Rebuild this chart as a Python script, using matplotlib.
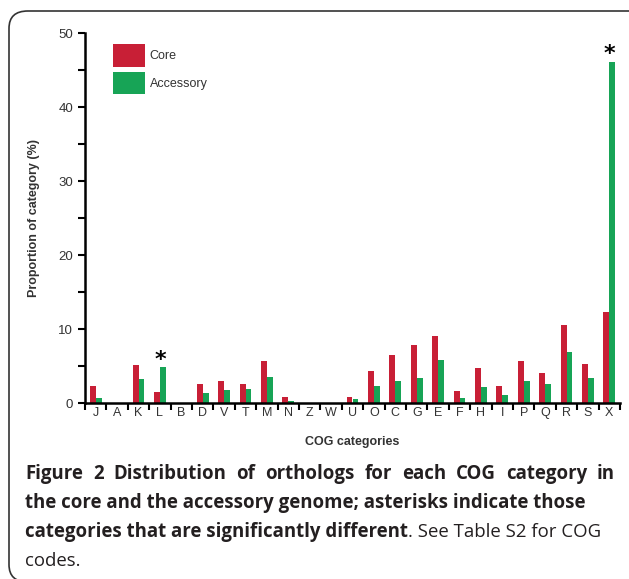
import numpy as np
import matplotlib
matplotlib.use('Agg')
import matplotlib.pyplot as plt
from matplotlib.patches import FancyBboxPatch

# Datos
categorias = ['J', 'A', 'K', 'L', 'B', 'D', 'V', 'T', 'M', 'N', 'Z', 'W', 'U',
              'O', 'C', 'G', 'E', 'F', 'H', 'I', 'P', 'Q', 'R', 'S', 'X']
core = [2.3, 0, 5.1, 1.5, 0, 2.6, 3.0, 2.6, 5.7, 0.8, 0, 0, 0.8,
        4.3, 6.5, 7.8, 9.1, 1.6, 4.7, 2.3, 5.7, 4.1, 10.6, 5.3, 12.3]
accesorio = [0.7, 0, 3.2, 4.8, 0, 1.3, 1.7, 1.9, 3.5, 0.3, 0, 0, 0.6,
             2.3, 3.0, 3.4, 5.8, 0.7, 2.2, 1.1, 3.0, 2.6, 6.9, 3.4, 46.1]
significativas = ['L', 'X']

W, H = 629, 579
fig = plt.figure(figsize=(W / 100, H / 100), dpi=100)
fig.patch.set_facecolor('white')

# Marco redondeado
marco = FancyBboxPatch((9 / W, 1 - 582 / H), 640 / W, 571 / H,
                       boxstyle='round,pad=0,rounding_size=0.03',
                       transform=fig.transFigure, fill=False,
                       edgecolor='#333333', linewidth=1.2, clip_on=False)
fig.patches.append(marco)

ax = fig.add_axes([85 / W, 1 - 403 / H, 535 / W, 370 / H])
x = np.arange(len(categorias))
ancho = 0.28
rojo = '#c81f36'
verde = '#17a456'
ax.bar(x - ancho / 2, core, ancho, color=rojo, label='Core')
ax.bar(x + ancho / 2, accesorio, ancho, color=verde, label='Accessory')

ax.set_xlim(-0.5, len(categorias) - 0.5)
ax.set_ylim(0, 50)
for s in ['top', 'right']:
    ax.spines[s].set_visible(False)
for s in ['left', 'bottom']:
    ax.spines[s].set_linewidth(1.8)

fuente = 'Liberation Sans'
ax.set_xticks(x)
ax.set_xticklabels(categorias, fontsize=9, family=fuente, color='#333333')
ax.tick_params(axis='x', which='major', length=0, pad=3)
ax.set_xticks(np.arange(-0.5, len(categorias)), minor=True)
ax.tick_params(axis='x', which='minor', length=5, width=1.5, direction='out')
ax.set_yticks([0, 10, 20, 30, 40, 50])
ax.set_yticks([5, 15, 25, 35, 45], minor=True)
ax.set_yticklabels(['0', '10', '20', '30', '40', '50'], fontsize=9.5,
                   family=fuente, color='#333333')
ax.tick_params(axis='y', which='both', length=5, width=1.5, direction='out')

ax.set_xlabel('COG categories', fontsize=9, family=fuente, fontweight='bold',
              color='#333333', labelpad=12)
ax.set_ylabel('Proportion of category (%)', fontsize=9, family=fuente,
              fontweight='bold', color='#333333', labelpad=13)

for c in significativas:
    i = categorias.index(c)
    top = max(core[i], accesorio[i])
    ax.text(i, top + 1.0, '*', ha='center', va='center', fontsize=16,
            fontweight='bold', family='DejaVu Sans')

leg = ax.legend(loc='upper left', bbox_to_anchor=(0.052, 0.97), frameon=False,
                prop={'family': fuente, 'size': 9}, handlelength=2.56,
                handleheight=2.4, labelspacing=0.4, handletextpad=0.4,
                borderpad=0, borderaxespad=0)
for t in leg.get_texts():
    t.set_color('#333333')

# Leyenda de la figura (pie)
color_txt = '#231f20'
fam = 'Open Sans'
tam = 13.4
renderer = fig.canvas.get_renderer()
x0 = 25 / W

# primera linea justificada
palabras = 'Figure 2 Distribution of orthologs for each COG category in'.split()
y1 = 1 - 474 / H
anchos = []
objs = []
for p in palabras:
    t = fig.text(0, y1, p, fontsize=tam, family=fam, fontweight='bold',
                 va='center', ha='left', color=color_txt)
    anchos.append(t.get_window_extent(renderer=renderer).width)
    objs.append(t)
hueco = (590 - sum(anchos)) / (len(palabras) - 1)
xp = 25
for t, a in zip(objs, anchos):
    t.set_x(xp / W)
    xp += a + hueco

lineas = [
    ('the core and the accessory genome; asterisks indicate those', ''),
    ('categories that are significantly different', '. See Table S2 for COG'),
    ('', 'codes.'),
]
ys = [503, 532, 561]
for (negrita, normal), yp in zip(lineas, ys):
    xp = x0
    if negrita:
        t = fig.text(xp, 1 - yp / H, negrita, fontsize=tam, family=fam,
                     fontweight='bold', va='center', ha='left', color=color_txt)
        bb = t.get_window_extent(renderer=renderer)
        xp = bb.x1 / W
    if normal:
        fig.text(xp, 1 - yp / H, normal, fontsize=tam, family=fam,
                 va='center', ha='left', color=color_txt)

fig.savefig('out.png', dpi=100)
